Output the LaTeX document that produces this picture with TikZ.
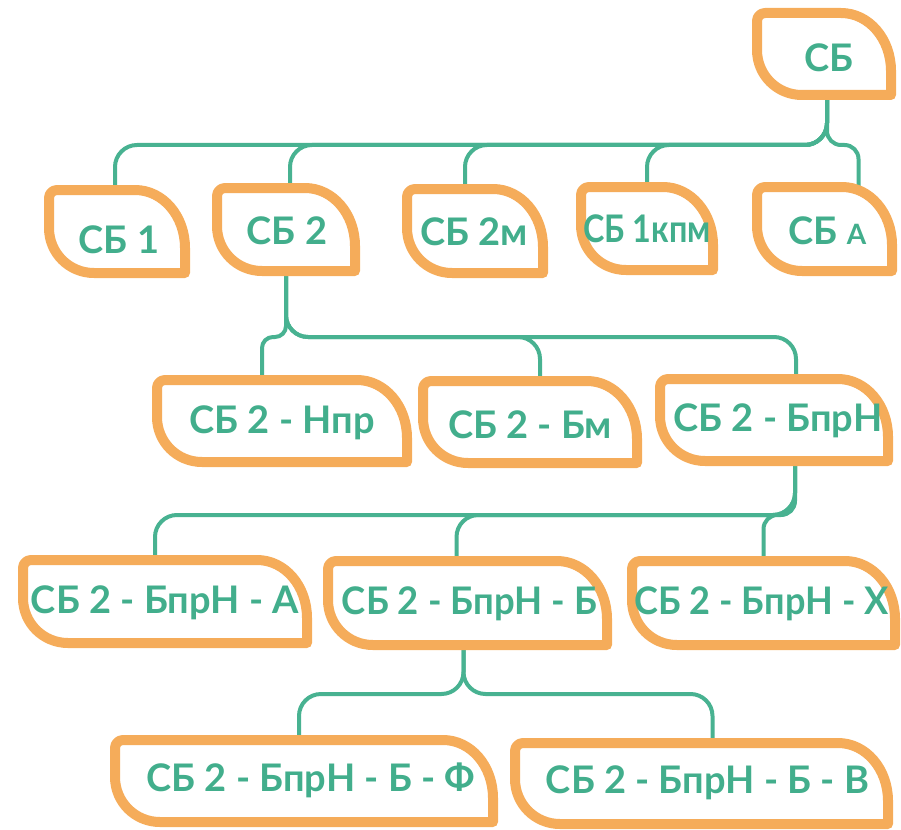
\documentclass[tikz,border=0pt]{standalone}
\usepackage{fontspec}
\setmainfont{Lato}
\usetikzlibrary{backgrounds,calc}
\definecolor{orng}{RGB}{245,172,90}
\definecolor{teal1}{RGB}{72,178,145}
\definecolor{tealtxt}{RGB}{66,174,140}
\tikzset{
 boxline/.style={draw=orng, line width=10pt, line join=round, fill=white},
 conn/.style={draw=teal1, line width=4pt, rounded corners=22pt},
 tightconn/.style={conn, rounded corners=14pt},
 tighterconn/.style={conn, rounded corners=11pt},
 lbl/.style={text=tealtxt, font=\fontsize{38}{40}\selectfont\bfseries, inner sep=0pt},
 anch/.style={inner sep=0pt, outer sep=0pt, draw=none, shape=rectangle},
}
\newcommand\leafbox[8]{%
 \pgfmathsetmacro\Xa{#2+5}\pgfmathsetmacro\Ya{#3+5}%
 \pgfmathsetmacro\Xb{#4-5}\pgfmathsetmacro\Yb{#5-5}%
 \pgfmathsetmacro\Cx{(#2+#4)/2}\pgfmathsetmacro\Cy{(#3+#5)/2}%
 \pgfmathsetmacro\W{#4-#2-10}\pgfmathsetmacro\H{#5-#3-10}%
 \path[boxline] (\Xa,\Ya+8) .. controls (\Xa,\Ya+3.6) and (\Xa+3.6,\Ya) .. (\Xa+8,\Ya)
   -- (\Xb-50,\Ya) .. controls (\Xb-22,\Ya) and (\Xb,\Ya+26) .. (\Xb,\Ya+58)
   -- (\Xb,\Yb) -- (\Xa+45,\Yb) .. controls (\Xa+20,\Yb) and (\Xa,\Yb-20) .. (\Xa,\Yb-45) -- cycle;
 \node[anch, minimum width=\W pt, minimum height=\H pt] (#1) at (\Cx,\Cy) {};
 \node[lbl] (#1-t) at (\Cx+#6,\Cy+#7) {#8};
}
\newcommand\link[4][conn]{\draw[#1] (#2) -- (#2 |- #4) -- (#3 |- #4) -- (#3);}
\begin{document}
\begin{tikzpicture}[x=1pt,y=-1pt]
\useasboundingbox (0,0) rectangle (901,829);
% level 1
\leafbox{root}{752}{8}{896}{100}{5}{4}{СБ}
% level 2
\leafbox{s1}{44}{185}{190}{278}{2}{8}{СБ 1}
\leafbox{s2}{212}{183}{360}{276}{1}{1}{СБ 2}
\leafbox{s2m}{402}{184}{548}{278}{-1}{1}{СБ 2м}
\leafbox{s1k}{576}{182}{718}{275}{0}{0}{\scalebox{0.85}[1]{СБ 1кпм}}
\leafbox{sa}{752}{182}{897}{276}{3}{2}{СБ {\fontsize{28}{30}\selectfont А}}
% level 3
\leafbox{npr}{152}{375}{412}{467}{0}{2}{СБ 2 - Нпр}
\leafbox{bm}{418}{376}{642}{468}{0}{3}{СБ 2 - Бм}
\leafbox{bprn}{655}{374}{893}{466}{4}{1}{СБ 2 - БпрН}
% level 4
\leafbox{ba}{18}{555}{312}{648}{0}{1}{СБ 2 - БпрН - А}
\leafbox{bb}{323}{556}{612}{650}{2}{1}{\scalebox{0.96}[1]{СБ 2 - БпрН - Б}}
\leafbox{bx}{627}{556}{900}{650}{-2}{1}{\scalebox{0.95}[1]{СБ 2 - БпрН - Х}}
% level 5
\leafbox{bf}{110}{735}{498}{827}{7}{-1}{СБ 2 - БпрН - Б - Ф}
\leafbox{bv}{510}{738}{893}{829}{6}{-1}{СБ 2 - БпрН - Б - В}
% buses
\coordinate (bus1) at (0,145);
\coordinate (bus2) at (0,337);
\coordinate (bus3) at (0,515);
\coordinate (bus4) at (0,694);
% connector ends
\coordinate (root-o) at ([xshift=3pt]root.south);
\coordinate (s1-i) at ([xshift=-2pt]s1.north);
\coordinate (s2-i) at ([xshift=4pt]s2.north);
\coordinate (s2m-i) at ([xshift=-10pt]s2m.north);
\coordinate (s1k-i) at ([xshift=0pt]s1k.north);
\coordinate (sa-i) at ([xshift=34pt]sa.north);
\coordinate (s2-o) at ([xshift=0pt]s2.south);
\coordinate (npr-i) at ([xshift=-20pt]npr.north);
\coordinate (bm-i) at ([xshift=10pt]bm.north);
\coordinate (bprn-i) at ([xshift=22pt]bprn.north);
\coordinate (bprn-o) at ([xshift=21pt]bprn.south);
\coordinate (ba-i) at ([xshift=-10pt]ba.north);
\coordinate (bb-i) at ([xshift=-11pt]bb.north);
\coordinate (bx-i) at ([xshift=0pt]bx.north);
\coordinate (bb-o) at ([xshift=-4pt]bb.south);
\coordinate (bf-i) at ([xshift=-5pt]bf.north);
\coordinate (bv-i) at ([xshift=11pt]bv.north);
\begin{scope}[on background layer]
\link{root-o}{s1-i}{bus1}
\link{root-o}{s2-i}{bus1}
\link{root-o}{s2m-i}{bus1}
\link{root-o}{s1k-i}{bus1}
\link[tightconn]{root-o}{sa-i}{bus1}
\link[tighterconn]{s2-o}{npr-i}{bus2}
\link{s2-o}{bm-i}{bus2}
\link{s2-o}{bprn-i}{bus2}
\link{bprn-o}{ba-i}{bus3}
\link{bprn-o}{bb-i}{bus3}
\link[tightconn]{bprn-o}{bx-i}{bus3}
\link{bb-o}{bf-i}{bus4}
\link{bb-o}{bv-i}{bus4}
\end{scope}
\end{tikzpicture}
\end{document}
